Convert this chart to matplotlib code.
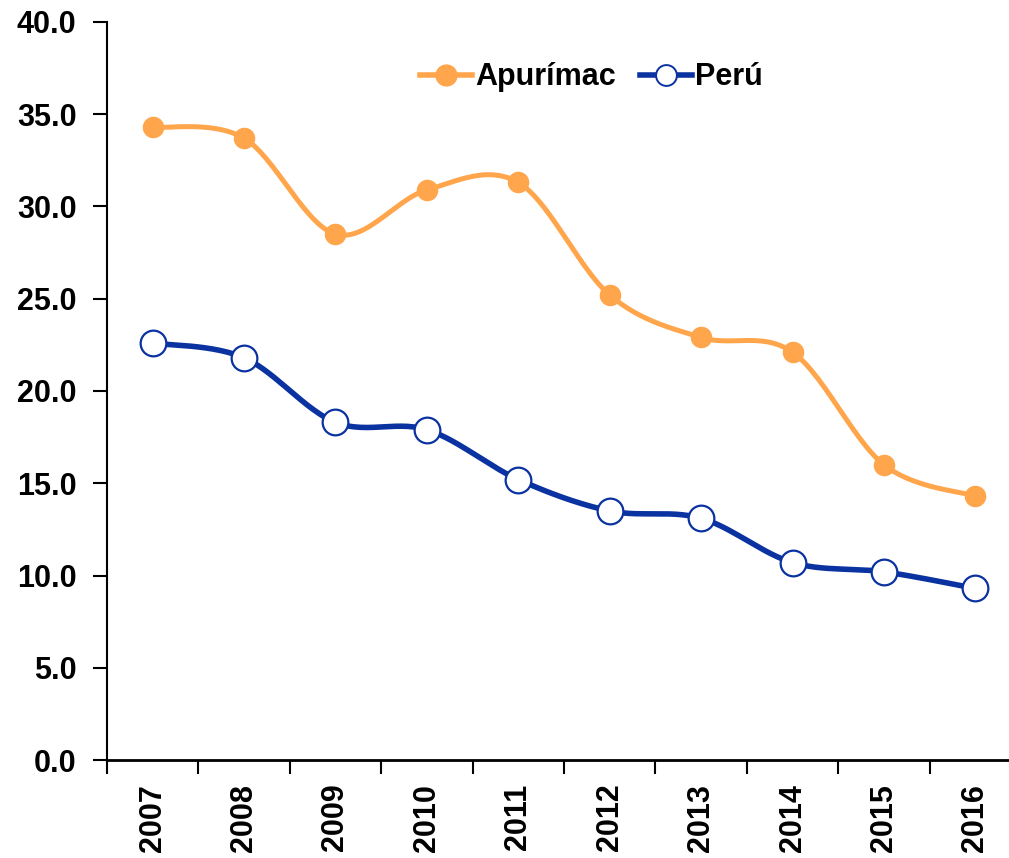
import numpy as np
import matplotlib.pyplot as plt

years = ['2007', '2008', '2009', '2010', '2011', '2012', '2013', '2014', '2015', '2016']
apurimac = [34.3, 33.7, 28.5, 30.9, 31.3, 25.2, 22.9, 22.1, 16.0, 14.3]
peru = [22.6, 21.8, 18.3, 17.9, 15.2, 13.5, 13.1, 10.7, 10.2, 9.3]

plt.rcParams['font.family'] = ['Liberation Sans', 'DejaVu Sans']
plt.rcParams['font.weight'] = 'bold'


def smooth(x, y, n=30):
    # excel-like smoothed line (bezier through points)
    x = np.asarray(x, float)
    y = np.asarray(y, float)
    xs, ys = [], []
    for i in range(len(x) - 1):
        p0 = np.array([x[max(i - 1, 0)], y[max(i - 1, 0)]])
        p1 = np.array([x[i], y[i]])
        p2 = np.array([x[i + 1], y[i + 1]])
        p3 = np.array([x[min(i + 2, len(x) - 1)], y[min(i + 2, len(x) - 1)]])
        c1 = p1 + (p2 - p0) / 6
        c2 = p2 - (p3 - p1) / 6
        t = np.linspace(0, 1, n)[:, None]
        seg = ((1 - t) ** 3) * p1 + 3 * ((1 - t) ** 2) * t * c1 + 3 * (1 - t) * t ** 2 * c2 + t ** 3 * p2
        xs.extend(seg[:, 0])
        ys.extend(seg[:, 1])
    return xs, ys


fig = plt.figure(figsize=(10.09, 8.58), dpi=100)
ax = fig.add_axes([0.106, 0.1142, 0.906, 0.8602])

x = np.arange(len(years))
orange = '#FFA64D'
blue = '#0A32A0'

sx, sy = smooth(x, apurimac)
ax.plot(sx, sy, color=orange, lw=3.6, solid_capstyle='round')
ax.plot(x, apurimac, 'o', color=orange, ms=14.5, zorder=3)
sx, sy = smooth(x, peru)
ax.plot(sx, sy, color=blue, lw=4, solid_capstyle='round')
ax.plot(x, peru, 'o', mfc='white', mec=blue, mew=1.6, ms=18.5, zorder=3)

# legend handles
ax.plot([], [], '-o', color=orange, lw=4, ms=15, label='Apurímac')
ax.plot([], [], '-o', color=blue, lw=4, mfc='white', mec=blue, mew=1.4, ms=15, label='Perú')
h, l = ax.get_legend_handles_labels()
ax.legend(h[-2:], l[-2:], loc='center', bbox_to_anchor=(0.53, 0.925), ncol=2, frameon=False,
          fontsize=22, handlelength=1.7, handletextpad=0.1, columnspacing=0.8)

ax.set_xlim(-0.5, len(years) - 0.5)
ax.set_ylim(0, 40)
ax.set_yticks(np.arange(0, 41, 5))
ax.set_yticklabels([f'{v:.1f}' for v in np.arange(0, 41, 5)], fontsize=22)
ax.set_xticks(x)
ax.set_xticklabels(years, rotation=90, fontsize=22)
ax.set_xticks(np.arange(-0.5, len(years), 1), minor=True)
ax.tick_params(axis='x', which='major', length=0, pad=17)
ax.tick_params(axis='x', which='minor', length=10, width=1.5, direction='out')
ax.tick_params(axis='y', length=10, width=1.5, direction='out', pad=12)

ax.spines['top'].set_visible(False)
ax.spines['right'].set_visible(False)
ax.spines['left'].set_linewidth(1.5)
ax.spines['bottom'].set_linewidth(2)

fig.savefig('out.png', dpi=100)
